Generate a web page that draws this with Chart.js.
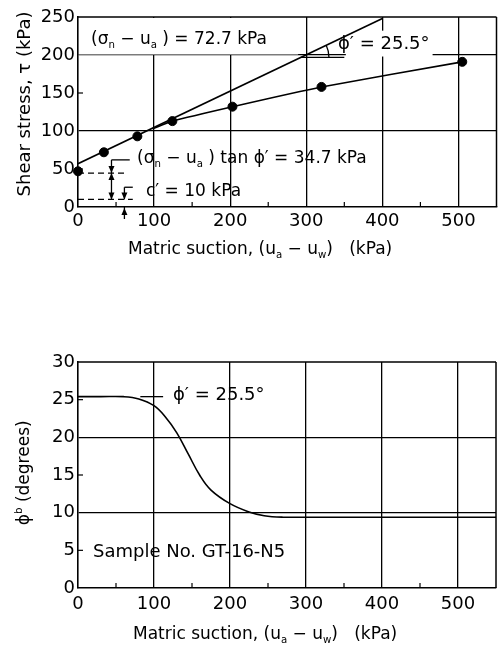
<!DOCTYPE html>
<html>
<head>
<meta charset="utf-8">
<script src="https://cdn.jsdelivr.net/npm/chart.js@4.4.0/dist/chart.umd.min.js"></script>
<style>
  body { margin: 0; background: #fff; width: 502px; height: 651px; overflow: hidden; position: relative; }
  canvas { position: absolute; left: 0; }
  #arriba { top: 0; }
  #abajo { top: 300px; }
</style>
</head>
<body>
<canvas id="arriba" width="502" height="300"></canvas>
<canvas id="abajo" width="502" height="351"></canvas>
<script>
// datos
const succion = [0, 34, 78, 124, 203, 320, 505];
const corte = [47, 72, 93, 113, 132, 158, 191];
const envolventeX = [0, 400];
const envolventeY = [57, 248];
const curvaX = [98, 124, 203, 320, 505];
const curvaY = [103, 113, 132, 158, 191];
const ticksX = [0, 100, 200, 300, 400, 500];
const ticksCorte = [0, 50, 100, 150, 200, 250];
const phiX = [0, 30, 60, 80, 100, 115, 130, 145, 160, 175, 200, 225, 245, 270, 300, 400, 500, 550];
const phiY = [25.4, 25.4, 25.4, 25.1, 24.2, 22.7, 20.6, 17.8, 15.0, 13.0, 11.2, 10.1, 9.6, 9.4, 9.4, 9.4, 9.4, 9.4];
const ticksPhi = [0, 5, 10, 15, 20, 25, 30];

const fuente = '"DejaVu Sans", Arial, sans-serif';
const nada = 'rgba(0,0,0,0)';

function pares(xs, ys) {
  return xs.map((x, i) => ({ x: x, y: ys[i] }));
}

// texto con subindices / superindices
function textoRico(ctx, x, y, partes, size) {
  ctx.textBaseline = 'middle';
  ctx.textAlign = 'left';
  partes.forEach(p => {
    let s = size, dy = 0;
    if (p.sub) { s = size * 0.6; dy = size * 0.3; }
    if (p.sup) { s = size * 0.6; dy = -size * 0.35; }
    ctx.font = s + 'px ' + fuente;
    ctx.fillText(p.t, x, y + dy);
    x += ctx.measureText(p.t).width;
  });
  return x;
}

function flecha(ctx, x, y, dir) {
  ctx.beginPath();
  ctx.moveTo(x, y);
  ctx.lineTo(x - 3, y - 7 * dir);
  ctx.lineTo(x + 3, y - 7 * dir);
  ctx.closePath();
  ctx.fill();
}

function linea(ctx, x1, y1, x2, y2) {
  ctx.beginPath();
  ctx.moveTo(x1, y1);
  ctx.lineTo(x2, y2);
  ctx.stroke();
}

function marcoYTicks(ctx, c, menoresX, menoresY) {
  const a = c.chartArea, xs = c.scales.x, ys = c.scales.y;
  ctx.strokeStyle = '#000';
  ctx.lineWidth = 1.5;
  linea(ctx, a.left, a.top, a.right, a.top);
  linea(ctx, a.right, a.top, a.right, a.bottom);
  ctx.lineWidth = 1.2;
  menoresX.forEach(v => {
    const px = xs.getPixelForValue(v);
    linea(ctx, px, a.bottom, px, a.bottom - 5);
  });
  menoresY.forEach(v => {
    const py = ys.getPixelForValue(v);
    linea(ctx, a.left, py, a.left + 5, py);
  });
}

function escalas(xmax, ymax, tx, ty, gridY, altoX, padX, padY) {
  return {
    x: {
      type: 'linear', min: 0, max: xmax,
      afterBuildTicks: s => { s.ticks = tx.map(v => ({ value: v })); },
      afterFit: s => { s.height = altoX; },
      grid: { color: c => (c.tick && c.tick.value > 0) ? '#000' : nada, lineWidth: 1.3, drawTicks: false },
      border: { color: '#000', width: 1.6 },
      ticks: { color: '#000', font: { family: fuente, size: 18 }, padding: padX, maxRotation: 0, autoSkip: false }
    },
    y: {
      type: 'linear', min: 0, max: ymax,
      afterBuildTicks: s => { s.ticks = ty.map(v => ({ value: v })); },
      afterFit: s => { s.width = 78; },
      grid: { color: c => (c.tick && gridY.includes(c.tick.value)) ? '#000' : nada, lineWidth: 1.3, drawTicks: false },
      border: { color: '#000', width: 1.6 },
      ticks: { color: '#000', font: { family: fuente, size: 18 }, padding: padY, autoSkip: false }
    }
  };
}

// ---------- grafico de arriba: resistencia al corte ----------
const decoArriba = {
  id: 'decoArriba',
  beforeDatasetsDraw(c) {
    const ctx = c.ctx, X = v => c.scales.x.getPixelForValue(v), Y = v => c.scales.y.getPixelForValue(v);
    ctx.save();
    ctx.fillStyle = '#fff';
    ctx.fillRect(X(0) + 1, Y(250) + 1, X(288) - X(0), Y(202) - Y(250));
    ctx.fillRect(X(352), Y(232), X(466) - X(352), Y(198) - Y(232));
    ctx.restore();
  },
  afterDraw(c) {
    const ctx = c.ctx, X = v => c.scales.x.getPixelForValue(v), Y = v => c.scales.y.getPixelForValue(v);
    ctx.save();
    ctx.fillStyle = '#000';
    ctx.strokeStyle = '#000';
    marcoYTicks(ctx, c, [50, 150, 250, 350, 450], [50, 150]);

    // lineas punteadas
    ctx.lineWidth = 1.3;
    ctx.setLineDash([6, 4]);
    linea(ctx, X(0), Y(44.7), X(62), Y(44.7));
    linea(ctx, X(0), Y(10), X(72), Y(10));
    ctx.setLineDash([]);

    // (sigma - ua) tan phi'
    const xa = X(44);
    linea(ctx, xa, Y(62), X(68), Y(62));
    linea(ctx, xa, Y(62), xa, Y(44.7));
    flecha(ctx, xa, Y(44.7), 1);
    linea(ctx, xa, Y(44.7), xa, Y(10));
    flecha(ctx, xa, Y(44.7), -1);
    flecha(ctx, xa, Y(10), 1);

    // c'
    const xc = X(61);
    linea(ctx, xc, Y(26), X(72), Y(26));
    linea(ctx, xc, Y(26), xc, Y(10));
    flecha(ctx, xc, Y(10), 1);
    linea(ctx, xc, Y(0) + 12, xc, Y(0));
    flecha(ctx, xc, Y(0) + 1, -1);

    // angulo phi'
    const xi = 293, yi = 57 + (248 - 57) / 400 * xi;
    const px = X(xi), py = Y(yi);
    linea(ctx, px, py, X(350), py);
    const ang = Math.atan2(Y(248) - Y(57), X(400) - X(0));
    ctx.beginPath();
    ctx.arc(px, py, 28, ang, 0);
    ctx.stroke();

    // textos
    textoRico(ctx, 91, 40, [{ t: '(σ' }, { t: 'n', sub: true }, { t: ' − u' }, { t: 'a', sub: true }, { t: ' ) = 72.7 kPa' }], 17);
    textoRico(ctx, 338, 44, [{ t: 'ϕ′ = 25.5°' }], 18);
    textoRico(ctx, 137, 159, [{ t: '(σ' }, { t: 'n', sub: true }, { t: ' − u' }, { t: 'a', sub: true }, { t: ' ) tan ϕ′ = 34.7 kPa' }], 17);
    textoRico(ctx, 146, 192, [{ t: 'c′ = 10 kPa' }], 17);

    // titulos de ejes
    textoRico(ctx, 128, 250, [{ t: 'Matric suction, (u' }, { t: 'a', sub: true }, { t: ' − u' }, { t: 'w', sub: true }, { t: ')   (kPa)' }], 17);
    ctx.translate(25, 104);
    ctx.rotate(-Math.PI / 2);
    ctx.font = '18px ' + fuente;
    ctx.textAlign = 'center';
    ctx.textBaseline = 'middle';
    ctx.fillText('Shear stress, τ (kPa)', 0, 0);
    ctx.restore();
  }
};

new Chart(document.getElementById('arriba'), {
  type: 'scatter',
  data: {
    datasets: [
      { data: pares(succion, corte), backgroundColor: '#000', borderColor: '#000', pointRadius: 4.5, showLine: false, clip: false },
      { data: pares(envolventeX, envolventeY), borderColor: '#000', borderWidth: 1.6, pointRadius: 0, showLine: true },
      { data: pares(curvaX, curvaY), borderColor: '#000', borderWidth: 1.6, pointRadius: 0, showLine: true, tension: 0.15 }
    ]
  },
  options: {
    responsive: false,
    animation: false,
    events: [],
    layout: { padding: { top: 17, right: 4, left: 0, bottom: 0 } },
    plugins: { legend: { display: false }, tooltip: { enabled: false } },
    scales: escalas(550, 250, ticksX, ticksCorte, [100, 200], 93, 4, 3)
  },
  plugins: [decoArriba]
});

// ---------- grafico de abajo: phi b ----------
const decoAbajo = {
  id: 'decoAbajo',
  afterDraw(c) {
    const ctx = c.ctx, X = v => c.scales.x.getPixelForValue(v), Y = v => c.scales.y.getPixelForValue(v);
    ctx.save();
    ctx.fillStyle = '#000';
    ctx.strokeStyle = '#000';
    marcoYTicks(ctx, c, [50, 150, 250, 350, 450], [5, 15, 25]);

    ctx.lineWidth = 1.3;
    linea(ctx, X(82), Y(25.4), X(112), Y(25.4));
    textoRico(ctx, 173, 95, [{ t: 'ϕ′ = 25.5°' }], 18);
    textoRico(ctx, 93, 252, [{ t: 'Sample No. GT-16-N5' }], 18);

    textoRico(ctx, 133, 335, [{ t: 'Matric suction, (u' }, { t: 'a', sub: true }, { t: ' − u' }, { t: 'w', sub: true }, { t: ')   (kPa)' }], 17);
    ctx.translate(25, 173);
    ctx.rotate(-Math.PI / 2);
    ctx.font = '17px ' + fuente;
    const w = ctx.measureText('ϕ (degrees)').width + 6;
    textoRico(ctx, -w / 2, 0, [{ t: 'ϕ' }, { t: 'b', sup: true }, { t: ' (degrees)' }], 17);
    ctx.restore();
  }
};

new Chart(document.getElementById('abajo'), {
  type: 'scatter',
  data: {
    datasets: [
      { data: pares(phiX, phiY), borderColor: '#000', borderWidth: 1.6, pointRadius: 0, showLine: true, tension: 0.4 }
    ]
  },
  options: {
    responsive: false,
    animation: false,
    events: [],
    layout: { padding: { top: 62, right: 6, left: 0, bottom: 0 } },
    plugins: { legend: { display: false }, tooltip: { enabled: false } },
    scales: escalas(550, 30, ticksX, ticksPhi, [10, 20], 63, 6, 3)
  },
  plugins: [decoAbajo]
});
</script>
</body>
</html>
